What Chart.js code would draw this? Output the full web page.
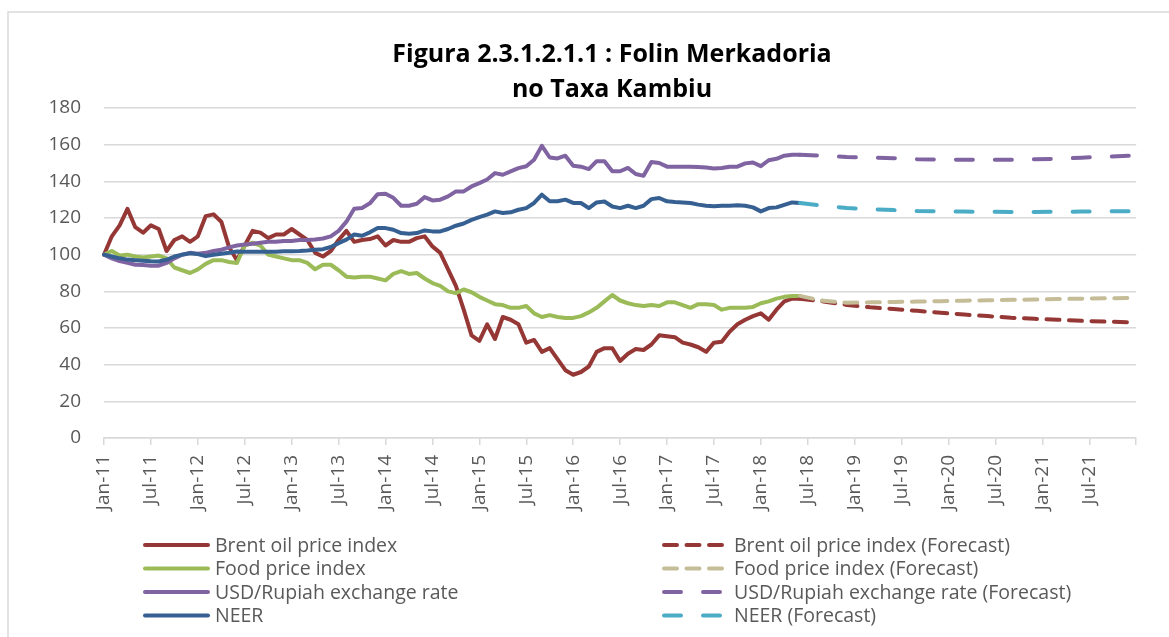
<!DOCTYPE html>
<html>
<head>
<meta charset="utf-8">
<title>Folin Merkadoria no Taxa Kambiu</title>
<script src="https://cdn.jsdelivr.net/npm/chart.js@4.4.1/dist/chart.umd.min.js"></script>
<style>
    html, body { margin: 0; padding: 0; background: #ffffff; }
    #wrap { position: relative; width: 1169px; height: 637px; }
</style>
</head>
<body>
<div id="wrap"><canvas id="priceChart"></canvas></div>
<script>
// Month labels Jan-11 .. Jan-22 (category axis)
const monthNames = ['Jan', 'Feb', 'Mar', 'Apr', 'May', 'Jun', 'Jul', 'Aug', 'Sep', 'Oct', 'Nov', 'Dec'];
const firstYear = 11;
const lastYear = 22;
const months = [];
for (let y = firstYear; y <= lastYear; y++) {
    monthNames.forEach(function(m, k) {
        if (y < lastYear || k === 0) months.push(m + '-' + y);
    });
}

// Actual monthly index values, Jan-11 .. Jun-18 (Jan-11 = 100)
const brent = [100, 110, 116, 125, 115, 112, 116, 114, 102, 108,
    110, 107, 110, 121, 122, 118, 104, 97, 105, 113,
    112, 109, 111, 111, 114, 111, 108, 101, 99, 102,
    108, 113, 107, 108, 108.5, 110, 105, 108, 107, 107,
    109, 110, 104.5, 101, 92, 83, 70, 56, 53, 62,
    54, 66, 64.5, 62, 52, 53.5, 47, 49, 43, 37,
    34.5, 36, 39, 47, 49, 49, 42, 46, 48.5, 48,
    51, 56, 55.5, 55, 52, 51, 49.5, 47, 52, 52.5,
    58, 62, 64.5, 66.5, 68, 64.5, 70, 74.5, 76, 76];
const food = [100, 102, 99.5, 100, 99, 98.5, 99, 99.5, 98, 93,
    91.5, 90, 92, 95, 97, 97, 96, 95.5, 105, 106.5,
    105, 100, 99, 98, 97, 97, 95.5, 92, 94.5, 94.5,
    91.5, 88, 87.5, 88, 88, 87, 86, 89.5, 91, 89.5,
    90, 87, 84.5, 83, 80, 79, 81, 79.5, 77, 75,
    73, 72.5, 71, 71, 72, 68, 66, 67, 66, 65.5,
    65.5, 66.5, 68.5, 71, 74.5, 78, 75, 73.5, 72.5, 72,
    72.5, 72, 74, 74, 72.5, 71, 73, 73, 72.5, 70,
    71, 71, 71, 71.5, 73.5, 74.5, 76, 77, 77.5, 77.5];
const usdRupiah = [100, 98, 96.5, 95.5, 94.5, 94.3, 94, 94, 95.5, 98,
    100, 101, 100.5, 101, 102, 102.7, 104, 105, 105.5, 106,
    106.5, 107, 107, 107.5, 107.5, 108, 108, 108.3, 108.8, 110,
    113, 118, 125, 125.5, 128, 133, 133.2, 131, 126.7, 126.7,
    127.8, 131.4, 129.6, 130, 131.8, 134.5, 134.5, 137.2, 139, 141,
    144.5, 143.6, 145.4, 147.2, 148.2, 151.8, 159.4, 153, 152.5, 154,
    148.5, 148, 146.7, 151, 151, 145.5, 145.5, 147.3, 144, 143,
    150.5, 150, 148, 148, 148, 148, 147.8, 147.5, 147, 147.3,
    148, 148, 149.8, 150.3, 148.3, 151.5, 152.3, 154, 154.5, 154.5];
const neer = [100, 99, 98, 97.3, 97, 96.7, 96.4, 96.3, 97.2, 99,
    100, 100.8, 100.3, 99.2, 100, 100.5, 101, 101.7, 101.6, 101.6,
    101.6, 101.6, 101.6, 101.8, 101.9, 102, 102.3, 102.7, 103, 104.2,
    106.3, 108.2, 111, 110.3, 112.2, 114.5, 114.5, 113.6, 111.8, 111.4,
    111.8, 113.2, 112.7, 112.7, 114, 115.8, 117, 119, 120.5, 121.8,
    123.6, 122.7, 123.1, 124.5, 125.4, 128.2, 132.7, 129.1, 129.1, 130,
    128.2, 128.2, 125.4, 128.5, 129, 126.3, 125.4, 126.7, 125.4, 126.7,
    130.3, 130.9, 129.1, 128.7, 128.5, 128.2, 127.3, 126.7, 126.4, 126.7,
    126.7, 126.9, 126.7, 125.8, 123.6, 125.4, 125.8, 127.2, 128.5, 128.2];

// Forecast readings (quarterly), Jun-18 .. Jan-22
const forecastMonths = ['Jun-18', 'Sep-18', 'Dec-18', 'Mar-19', 'Jun-19', 'Sep-19', 'Dec-19', 'Mar-20',
    'Jun-20', 'Sep-20', 'Dec-20', 'Mar-21', 'Jun-21', 'Sep-21', 'Dec-21', 'Jan-22'];
const brentForecast = [76, 74.5, 72.6, 71.3, 70.3, 69.4, 68.3, 67.3, 66.5, 65.6, 65, 64.5, 63.9, 63.5, 63.1, 63];
const foodForecast = [77.5, 74.8, 73.8, 74, 74.2, 74.4, 74.6, 74.9, 75.1, 75.4, 75.5, 75.8, 76, 76.2, 76.4, 76.5];
const usdRupiahForecast = [154.5, 154, 153.3, 153, 152.6, 152.1, 151.9, 151.8, 151.8, 151.8, 152.1, 152.3, 152.9, 153.4, 153.9, 154];
const neerForecast = [128.2, 126.6, 125.5, 124.8, 124.3, 123.8, 123.6, 123.5, 123.4, 123.3, 123.3, 123.4, 123.5, 123.6, 123.7, 123.7];

const yTicks = [0, 20, 40, 60, 80, 100, 120, 140, 160, 180];

const titleLines = ['Figura 2.3.1.2.1.1 : Folin Merkadoria', 'no Taxa Kambiu'];

function forecastPoints(values) {
    return forecastMonths.map(function(m, k) { return { x: m, y: values[k] }; });
}

const textGrey = '#595959';
const gridGrey = '#d9d9d9';
const fontFamily = '"Open Sans", Lato, sans-serif';

// Frame, title and the two-column legend, placed like the Excel original
const excelFrame = {
    id: 'excelFrame',
    beforeDraw(chart) {
        const ctx = chart.ctx;
        ctx.save();
        ctx.fillStyle = '#ffffff';
        ctx.fillRect(0, 0, chart.width, chart.height);
        ctx.strokeStyle = gridGrey;
        ctx.lineWidth = 1.5;
        ctx.strokeRect(8, 12, chart.width + 20, chart.height + 20);
        ctx.restore();
    },
    afterDraw(chart) {
        const ctx = chart.ctx;
        ctx.save();

        // title
        ctx.font = 'bold 25px ' + fontFamily;
        ctx.fillStyle = '#000000';
        ctx.textAlign = 'center';
        ctx.textBaseline = 'alphabetic';
        titleLines.forEach(function(line, k) {
            ctx.fillText(line, 612, 62 + k * 35);
        });

        // legend
        const colX = [143, 662];
        const sampleW = 67;
        const rowY = [545, 568.5, 592, 615.5];
        ctx.font = '19.5px ' + fontFamily;
        ctx.textAlign = 'left';
        ctx.textBaseline = 'middle';
        chart.data.datasets.forEach(function(ds, k) {
            const x = colX[Math.floor(k / 4)];
            const y = rowY[k % 4];
            ctx.beginPath();
            ctx.strokeStyle = ds.borderColor;
            ctx.lineWidth = 4;
            ctx.lineCap = 'round';
            ctx.setLineDash(ds.borderDash || []);
            ctx.moveTo(x + 2, y);
            ctx.lineTo(x + sampleW - 2, y);
            ctx.stroke();
            ctx.setLineDash([]);
            ctx.fillStyle = textGrey;
            ctx.fillText(ds.label, x + sampleW + 5, y + 1);
        });
        ctx.restore();
    }
};

const solidLine = { borderWidth: 4, pointRadius: 0, tension: 0, borderJoinStyle: 'round', borderCapStyle: 'round' };

new Chart(document.getElementById('priceChart'), {
    type: 'line',
    data: {
        labels: months,
        datasets: [
            Object.assign({ label: 'Brent oil price index', data: brent, borderColor: '#953735', order: 8 }, solidLine),
            Object.assign({ label: 'Food price index', data: food, borderColor: '#9bbb59', order: 7 }, solidLine),
            Object.assign({ label: 'USD/Rupiah exchange rate', data: usdRupiah, borderColor: '#8064a2', order: 6 }, solidLine),
            Object.assign({ label: 'NEER', data: neer, borderColor: '#376092', order: 5 }, solidLine),
            Object.assign({ label: 'Brent oil price index (Forecast)', data: forecastPoints(brentForecast),
                borderColor: '#953735', borderDash: [13, 9.5], order: 4 }, solidLine),
            Object.assign({ label: 'Food price index (Forecast)', data: forecastPoints(foodForecast),
                borderColor: '#c4bd97', borderDash: [13, 9.5], order: 3 }, solidLine),
            Object.assign({ label: 'USD/Rupiah exchange rate (Forecast)', data: forecastPoints(usdRupiahForecast),
                borderColor: '#8064a2', borderDash: [17, 22], order: 2 }, solidLine),
            Object.assign({ label: 'NEER (Forecast)', data: forecastPoints(neerForecast),
                borderColor: '#4bacc6', borderDash: [17, 22], order: 1 }, solidLine)
        ]
    },
    options: {
        responsive: true,
        maintainAspectRatio: false,
        animation: false,
        layout: { padding: { top: 108, right: 21, bottom: 104, left: 0 } },
        plugins: {
            legend: { display: false },
            tooltip: { enabled: false },
            title: { display: false }
        },
        scales: {
            x: {
                offset: false,
                border: { display: true, color: gridGrey, width: 1.5 },
                grid: { drawOnChartArea: false, drawTicks: true, tickLength: 7, color: gridGrey, lineWidth: 1.5 },
                ticks: {
                    autoSkip: false,
                    minRotation: 90,
                    maxRotation: 90,
                    padding: 10,
                    color: textGrey,
                    font: { family: fontFamily, size: 19 },
                    callback: function(value, index) {
                        if (index % 6 !== 0) return null;
                        return index === months.length - 1 ? '' : months[index];
                    }
                },
                afterFit: function(scale) { scale.height = 95; }
            },
            y: {
                min: 0,
                max: 180,
                border: { display: false },
                grid: { color: gridGrey, lineWidth: 1.5, drawTicks: false },
                afterBuildTicks: function(scale) {
                    scale.ticks = yTicks.map(function(v) { return { value: v }; });
                },
                ticks: {
                    padding: 23,
                    color: textGrey,
                    font: { family: fontFamily, size: 19 }
                },
                afterFit: function(scale) { scale.width = 104; }
            }
        }
    },
    plugins: [excelFrame]
});
</script>
</body>
</html>
